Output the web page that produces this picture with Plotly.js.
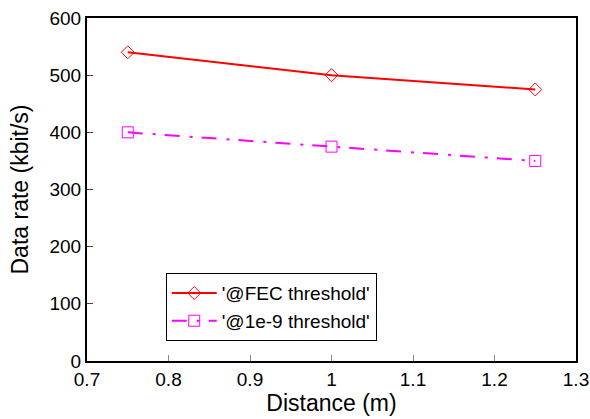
<!DOCTYPE html>
<html>
<head>
<meta charset="utf-8">
<script src="https://cdn.plot.ly/plotly-3.0.1.min.js"></script>
<style>html,body{margin:0;padding:0;background:#fff;}#chart{width:590px;height:419px;}</style>
</head>
<body>
<div id="chart"></div>
<script>
var distance = [0.75, 1.0, 1.25];
var fecThreshold = [540, 500, 475];
var e9Threshold = [400, 375, 350];
var seriesNames = ["'@FEC threshold'", "'@1e-9 threshold'"];
var xTicks = [0.7, 0.8, 0.9, 1, 1.1, 1.2, 1.3];
var yTicks = [0, 100, 200, 300, 400, 500, 600];

var traces = [
  {
    x: distance, y: fecThreshold, name: seriesNames[0], type: 'scatter', mode: 'lines+markers',
    line: {color: '#ff0000', width: 2},
    marker: {symbol: 'diamond-open', size: 10, color: '#ff0000', line: {width: 1, color: '#ff0000'}}
  },
  {
    x: distance, y: e9Threshold, name: seriesNames[1], type: 'scatter', mode: 'lines+markers',
    line: {color: '#ff00ff', width: 2, dash: '15px,10px,3px,9px'},
    marker: {symbol: 'square-open', size: 11, color: '#ff00ff', line: {width: 1, color: '#ff00ff'}}
  }
];

var fam = 'Arial, Liberation Sans, sans-serif';
var layout = {
  width: 590, height: 419,
  margin: {l: 87, r: 14, t: 18, b: 58},
  paper_bgcolor: '#fff', plot_bgcolor: '#fff',
  font: {family: fam, color: '#000'},
  showlegend: true,
  xaxis: {
    range: [0.7, 1.3], tickvals: xTicks, ticktext: xTicks.map(String),
    showgrid: false, zeroline: false, showline: true, mirror: true, linecolor: '#000', linewidth: 2,
    ticks: 'inside', ticklen: 6, tickcolor: '#888', tickwidth: 1,
    tickfont: {family: fam, size: 19, color: '#000'},
    automargin: false,
    title: {text: 'Distance (m)', font: {family: fam, size: 23, color: '#000'}, standoff: 1}
  },
  yaxis: {
    range: [0, 600], tickvals: yTicks,
    showgrid: false, zeroline: false, showline: true, mirror: true, linecolor: '#000', linewidth: 2,
    ticks: 'inside', ticklen: 6, tickcolor: '#444', tickwidth: 1,
    tickfont: {family: fam, size: 19, color: '#000'},
    automargin: false,
    title: {text: 'Data rate (kbit/s)', font: {family: fam, size: 23, color: '#000'}, standoff: 14}
  },
  legend: {
    x: 0.161, y: 0.256, xanchor: 'left', yanchor: 'top',
    bordercolor: '#000', borderwidth: 1, bgcolor: '#fff',
    font: {family: fam, size: 19, color: '#000'},
    itemwidth: 45,
    tracegroupgap: 0
  }
};

Plotly.newPlot('chart', traces, layout, {displayModeBar: false, staticPlot: true});
</script>
</body>
</html>
